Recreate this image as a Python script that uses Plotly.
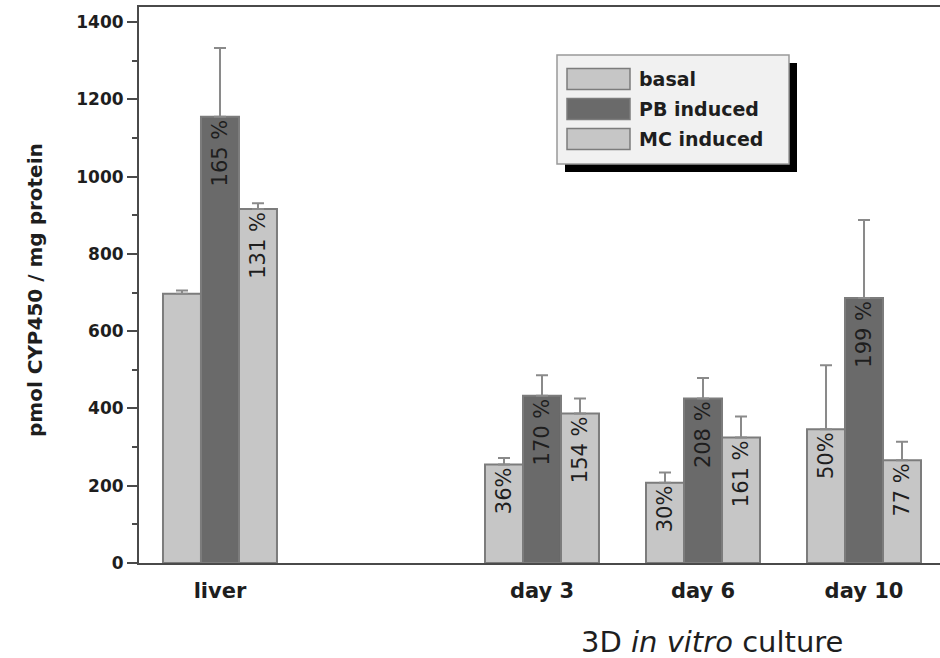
import plotly.graph_objects as go

# ---- data ----
categories = ["liver", "day 3", "day 6", "day 10"]
axis_categories = ["liver", " ", "day 3", "day 6", "day 10"]  # blank spacer slot

series_names = ["basal", "PB induced", "MC induced"]
basal = [697, 255, 208, 346]
basal_err = [8, 17, 26, 166]
basal_labels = ["", "36%", "30%", "50%"]

pb = [1155, 433, 426, 686]
pb_err = [178, 53, 53, 202]
pb_labels = ["165 %", "170 %", "208 %", "199 %"]

mc = [916, 387, 325, 266]
mc_err = [15, 39, 54, 48]
mc_labels = ["131 %", "154 %", "161 %", "77 %"]

y_ticks = [0, 200, 400, 600, 800, 1000, 1200, 1400]

# ---- style ----
FONT = "DejaVu Sans"
LIGHT = "#c6c6c6"
DARK = "#6a6a6a"
EDGE = "#7c7c7c"
TXT = "#1e1e1e"
colors = [LIGHT, DARK, LIGHT]

W, H = 940, 658
L, T, R, B = 139, 7, 940, 563  # plot area in px


def px(x):
    return (x - L) / (R - L)


def py(y):
    return (B - y) / (B - T)


fig = go.Figure()
for name, vals, errs, labs, col in zip(
    series_names,
    [basal, pb, mc],
    [basal_err, pb_err, mc_err],
    [basal_labels, pb_labels, mc_labels],
    colors,
):
    fig.add_trace(
        go.Bar(
            name=name,
            x=categories,
            y=vals,
            marker=dict(color=col, line=dict(color=EDGE, width=2)),
            error_y=dict(
                type="data",
                symmetric=False,
                array=errs,
                arrayminus=[0] * len(errs),
                color="#8a8a8a",
                thickness=2,
                width=6,
            ),
            text=labs,
            textposition="inside",
            textangle=-90,
            insidetextanchor="end",
            insidetextfont=dict(family=FONT, size=21, color=TXT),
            showlegend=False,
        )
    )

# ---- custom legend (box with drop shadow) ----
shapes = []
shapes.append(dict(type="rect", xref="paper", yref="paper",
                   x0=px(565), x1=px(797), y0=py(172), y1=py(63),
                   fillcolor="#000000", line=dict(width=0), layer="above"))
shapes.append(dict(type="rect", xref="paper", yref="paper",
                   x0=px(557), x1=px(789), y0=py(164), y1=py(55),
                   fillcolor="#f1f1f1", line=dict(color="#999999", width=1.5), layer="above"))
annotations = []
for i, (name, col) in enumerate(zip(series_names, colors)):
    cy = 79 + 30 * i
    shapes.append(dict(type="rect", xref="paper", yref="paper",
                       x0=px(567), x1=px(630), y0=py(cy + 10.5), y1=py(cy - 10.5),
                       fillcolor=col, line=dict(color=EDGE, width=1.5), layer="above"))
    annotations.append(dict(xref="paper", yref="paper", x=px(637), y=py(cy),
                            xanchor="left", yanchor="middle", showarrow=False,
                            text=name, font=dict(family=FONT, size=19, color=TXT, weight="bold")))

# y-axis title
annotations.append(dict(xref="paper", yref="paper", x=px(35), y=py(290),
                        xanchor="center", yanchor="middle", showarrow=False, textangle=-90,
                        text="pmol CYP450 / mg protein",
                        font=dict(family=FONT, size=20, color=TXT, weight="bold")))
# group caption
annotations.append(dict(xref="paper", yref="paper", x=px(712), y=py(642),
                        xanchor="center", yanchor="middle", showarrow=False,
                        text="3D <i>in vitro</i> culture",
                        font=dict(family=FONT, size=29, color=TXT)))

fig.update_layout(
    width=W, height=H,
    margin=dict(l=L, r=W - R, t=T, b=H - B, pad=0),
    paper_bgcolor="white", plot_bgcolor="white",
    barmode="group", bargap=0.292, bargroupgap=0,
    font=dict(family=FONT, color=TXT),
    shapes=shapes, annotations=annotations,
    xaxis=dict(
        type="category", categoryorder="array", categoryarray=axis_categories,
        range=[-0.503, 4.472],
        showline=True, linecolor="#4a4a4a", linewidth=2, mirror=True,
        ticks="", showgrid=False, zeroline=False,
        tickfont=dict(family=FONT, size=21, color=TXT, weight="bold"),
        ticklabelstandoff=8,
    ),
    yaxis=dict(
        range=[0, 1439], tickvals=y_ticks,
        showline=True, linecolor="#4a4a4a", linewidth=2,
        ticks="outside", ticklen=10, tickwidth=2, tickcolor="#4a4a4a",
        minor=dict(dtick=100, ticks="outside", ticklen=5, tickwidth=1.5, tickcolor="#4a4a4a", showgrid=False),
        showgrid=False, zeroline=False,
        tickfont=dict(family=FONT, size=17, color=TXT, weight="bold"),
    ),
)

fig.write_html(
    "out.html",
    config={"displayModeBar": False},
    post_script="document.body.style.margin='0';document.body.style.overflow='hidden';",
)
